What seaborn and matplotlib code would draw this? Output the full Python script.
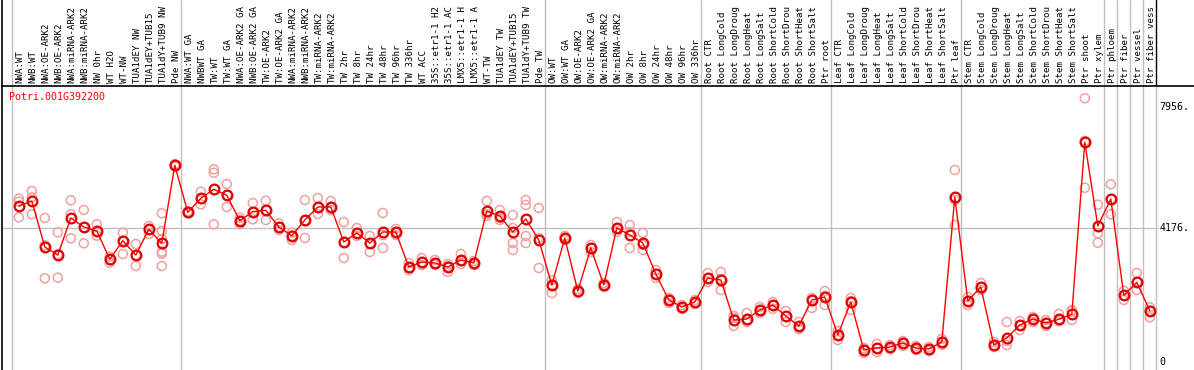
import matplotlib
matplotlib.use("Agg")
import matplotlib.pyplot as plt
import matplotlib.transforms as mtransforms
import numpy as np
import pandas as pd
import seaborn as sns

# ---------------- data ----------------
gene = "Potri.001G392200"

# sample labels as they are visible in the header (long names cut to 14 characters)
samples = [
    "NWA:WT", "NWB:WT", "NWA:OE-ARK2", "NWB:OE-ARK2", "NWA:miRNA-ARK2", "NWB:miRNA-ARK2",
    "NW 0hr", "WT H2O", "WT-NW", "TUA1dEY NW", "TUA1dEY+TUB15", "TUA1dY+TUB9 NW", "Pde NW",
    "NWA:WT GA", "NWBWT GA", "TW:WT", "TW:WT GA", "NWA:OE-ARK2 GA", "NWB:OE-ARK2 GA",
    "TW:OE-ARK2", "TW:OE-ARK2 GA", "NWA:miRNA-ARK2", "NWB:miRNA-ARK2", "TW:miRNA-ARK2",
    "TW:miRNA-ARK2", "TW 2hr", "TW 8hr", "TW 24hr", "TW 48hr", "TW 96hr", "TW 336hr", "WT ACC",
    "35S::etr1-1 H2", "35S::etr1-1 AC", "LMX5::etr1-1 H", "LMX5::etr1-1 A", "WT-TW",
    "TUA1dEY TW", "TUA1dEY+TUB15", "TUA1dY+TUB9 TW", "Pde TW",
    "OW:WT", "OW:WT GA", "OW:OE-ARK2", "OW:OE-ARK2 GA", "OW:miRNA-ARK2", "OW:miRNA-ARK2",
    "OW 2hr", "OW 8hr", "OW 24hr", "OW 48hr", "OW 96hr", "OW 336hr",
    "Root CTR", "Root LongCold", "Root LongDroug", "Root LongHeat", "Root LongSalt",
    "Root ShortCold", "Root ShortDrou", "Root ShortHeat", "Root ShortSalt", "Ptr root",
    "Leaf CTR", "Leaf LongCold", "Leaf LongDroug", "Leaf LongHeat", "Leaf LongSalt",
    "Leaf ShortCold", "Leaf ShortDrou", "Leaf ShortHeat", "Leaf ShortSalt", "Ptr leaf",
    "Stem CTR", "Stem LongCold", "Stem LongDroug", "Stem LongHeat", "Stem LongSalt",
    "Stem ShortCold", "Stem ShortDrou", "Stem ShortHeat", "Stem ShortSalt", "Ptr shoot",
    "Ptr xylem", "Ptr phloem", "Ptr fiber", "Ptr vessel", "Ptr fiber vess",
]

mean_values = [
    4867, 5023, 3588, 3338, 4493, 4212, 4087, 3204, 3785, 3338, 4140, 3703, 6137,
    4670, 5107, 5388, 5200, 4410, 4690, 4732, 4212, 3941, 4430, 4836, 4836, 3744,
    4025, 3713, 4056, 4056, 2964, 3120, 3089, 2964, 3182, 3089, 4711, 4555, 4056,
    4462, 3806,
    2402, 3869, 2215, 3557, 2402, 4181, 3962, 3713, 2746, 1934, 1716, 1872,
    2621, 2558, 1310, 1342, 1622, 1778, 1435, 1123, 1934, 2028,
    842, 1872, 374, 437, 468, 593, 437, 406, 624, 5148,
    1903, 2340, 530, 749, 1154, 1342, 1217, 1332, 1488, 6855, 4243,
    5086, 2081, 2487, 1601,
]

replicates = [
    [5095, 5001, 4514], [5335, 5138, 4608], [4493, 3640, 2611], [4046, 3370, 2631],
    [5044, 4608, 3859], [4742, 4202, 3703], [4296, 4066, 3941], [3287, 3182, 3098],
    [4035, 3785, 3370], [3682, 3338, 2995], [4243, 4118, 3994],
    [4639, 4087, 3838, 3442, 3380, 2995], [6170, 6100, 6140],
    [4700, 4640, 4670], [5314, 4920, 5090], [6012, 5906, 4296], [5554, 5200, 4836],
    [4502, 4409, 4296], [4961, 4690, 4452], [5033, 4733, 4430], [4327, 4212, 4118],
    [4035, 3941, 3806], [5054, 4399, 3869], [5117, 4836, 4618], [5023, 4742, 4836],
    [4368, 3744, 3245], [4181, 3931, 4025], [3931, 3432, 3713], [4649, 3962, 3557],
    [4150, 4056, 3962], [3089, 2870, 2933], [3245, 3026, 3120], [3182, 3026, 3089],
    [3058, 2808, 2995], [3370, 3058, 3151], [3151, 3026, 3089], [5023, 4555, 4618],
    [4742, 4430, 4493], [4586, 4181, 3713, 3494], [5054, 4898, 3931, 3713],
    [4805, 3869, 2933],
    [2558, 2153, 2402], [3869, 3931, 3806], [2215, 2278, 2153], [3650, 3432, 3557],
    [2402, 2465, 2340], [4368, 4056, 4181], [4274, 3557, 4056], [4025, 3494, 3650],
    [2870, 2621, 2746], [1997, 1841, 1934], [1778, 1654, 1716], [1934, 1810, 1872],
    [2777, 2496, 2621], [2808, 2246, 2590], [1435, 1123, 1373], [1529, 1248, 1310],
    [1716, 1529, 1622], [1872, 1654, 1778], [1591, 1248, 1435], [1248, 1030, 1123],
    [1997, 1685, 1934], [2215, 1778, 2059],
    [967, 686, 842], [1997, 1622, 1903], [437, 281, 374], [562, 312, 437],
    [530, 406, 468], [655, 499, 593], [499, 374, 437], [468, 343, 406],
    [718, 530, 624], [5990, 5054, 4274],
    [2028, 1778, 1903], [2465, 2246, 2340], [624, 468, 530], [1248, 655, 530],
    [1279, 998, 1154], [1404, 1248, 1342], [1310, 1123, 1217], [1498, 1270, 1332],
    [1622, 1582, 1310], [8227, 5438, 6900], [4908, 4015, 3722],
    [5544, 4608, 5086], [2225, 1934, 2081], [2777, 2246, 2487], [1706, 1395, 1601],
]

group_bounds = [-0.5, 12.5, 40.5, 52.5, 62.5, 72.5, 83.5, 84.5, 85.5, 86.5, 87.5]
y_ticks = [0, 4176, 7956]
y_tick_labels = ["0", "4176.", "7956."]

# ---------------- frames ----------------
mean_df = pd.DataFrame({"pos": np.arange(len(samples)), "value": mean_values})
rep_df = pd.DataFrame(
    [(i, v) for i, vals in enumerate(replicates) for v in vals], columns=["pos", "value"]
)

# ---------------- figure ----------------
sns.set_theme(style="white")
plt.rcParams["font.family"] = ["DejaVu Sans Mono", "DejaVu Sans"]

W, H = 1194, 370
fig = plt.figure(figsize=(W / 100, H / 100), dpi=100)
top_px = 86
ax = fig.add_axes([2 / W, 0, 1 - 2 / W, (H - top_px) / H])
lab = fig.add_axes([2 / W, (H - top_px) / H, 1 - 2 / W, top_px / H])

x0_px = 18.8
step = 13.0
xl = -(x0_px - 2) / step
xr = xl + (W - 2) / step
px_per_unit = (362 - 107) / 7956.0
ylo = -(H - 362) / px_per_unit
yhi = (362 - top_px) / px_per_unit

for a in (ax, lab):
    a.set_xlim(xl, xr)
    a.set_facecolor("white")
    for s in a.spines.values():
        s.set_visible(False)
    a.set_xticks([])
    a.set_yticks([])
lab.set_ylim(0, 1)
for a, sides in ((ax, ["left"]), (lab, ["left", "bottom"])):
    for sd in sides:
        a.spines[sd].set_visible(True)
        a.spines[sd].set_color("black")
        a.spines[sd].set_linewidth(1.2)

# separators
x_end_frac = (1158 - 2) / (W - 2)
for b in group_bounds:
    ax.axvline(b, color="#c0c0c0", lw=1, zorder=0)
    lab.axvline(b, color="black" if b == group_bounds[-1] else "#c0c0c0", lw=1, zorder=0)
ax.axhline(4176, xmin=0, xmax=x_end_frac, color="#c0c0c0", lw=1, zorder=0)

# replicates
sns.scatterplot(
    data=rep_df, x="pos", y="value", ax=ax, marker="o", s=42,
    facecolor="none", edgecolor="#f2a0a0", linewidth=1.1, zorder=2, legend=False,
)
# means
sns.lineplot(
    data=mean_df, x="pos", y="value", ax=ax, color="red", lw=1.0,
    marker="o", markersize=7, markerfacecolor="none", markeredgecolor="#e00000",
    markeredgewidth=1.6, estimator=None, sort=False, zorder=3, legend=False,
)
ax.set_xlabel("")
ax.set_ylabel("")
ax.set_xlim(xl, xr)
ax.set_ylim(ylo, yhi)

# gene title
ax.text(7 / (W - 2), 1 - (97 - top_px) / (H - top_px), gene, transform=ax.transAxes,
        color="red", fontsize=7.2, ha="left", va="center")

# y tick labels on the right
tr = mtransforms.blended_transform_factory(ax.transAxes, ax.transData)
for v, t in zip(y_ticks, y_tick_labels):
    ax.text(x_end_frac + 0.001, v, t, transform=tr, fontsize=7.2, ha="left", va="center",
            color="black")

# sample labels
for i, name in enumerate(samples):
    lab.text(i + 0.1, 0.04, name, rotation=90, ha="center", va="bottom", fontsize=6.6,
             color="black", clip_on=True)

fig.savefig("out.png", dpi=100)
